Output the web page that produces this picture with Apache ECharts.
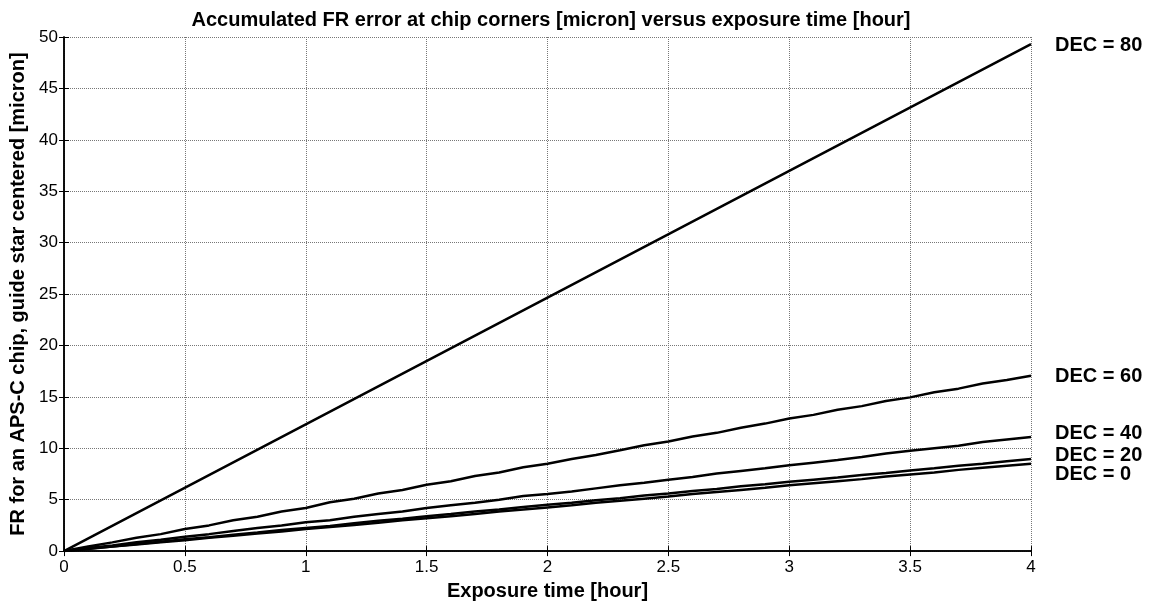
<!DOCTYPE html>
<html>
<head>
<meta charset="utf-8">
<script src="https://cdn.jsdelivr.net/npm/echarts@6/dist/echarts.min.js"></script>
<style>html,body{margin:0;padding:0;background:#fff}#c{width:1154px;height:606px}</style>
</head>
<body>
<div id="c"></div>
<script>
var titleText = 'Accumulated FR error at chip corners [micron] versus exposure time [hour]';
var xName = 'Exposure time [hour]';
var yName = 'FR for an APS-C chip, guide star centered [micron]';

var times = [0,0.1,0.2,0.3,0.4,0.5,0.6,0.7,0.8,0.9,1.0,1.1,1.2,1.3,1.4,1.5,1.6,1.7,1.8,1.9,2.0,
  2.1,2.2,2.3,2.4,2.5,2.6,2.7,2.8,2.9,3.0,3.1,3.2,3.3,3.4,3.5,3.6,3.7,3.8,3.9,4.0];

var times80 = [0, 2, 4];
var dec80 = [0, 24.65, 49.3];

var dec60 = [0,0.45,0.85,1.3,1.65,2.15,2.5,3.0,3.35,3.85,4.2,4.75,5.1,5.6,5.95,6.45,6.8,7.3,7.65,8.15,8.5,
  8.95,9.35,9.8,10.3,10.65,11.15,11.5,12.0,12.4,12.9,13.25,13.75,14.1,14.6,14.95,15.45,15.8,16.3,16.65,17.05];

var dec40 = [0,0.3,0.55,0.85,1.1,1.4,1.65,1.95,2.25,2.5,2.8,3.0,3.35,3.6,3.85,4.2,4.45,4.7,5.0,5.35,5.55,
  5.8,6.1,6.4,6.65,6.95,7.2,7.55,7.8,8.05,8.35,8.6,8.85,9.15,9.5,9.75,10.0,10.25,10.6,10.85,11.1];

var dec20 = [0,0.25,0.45,0.7,0.9,1.15,1.35,1.6,1.8,2.05,2.25,2.45,2.7,2.95,3.15,3.4,3.6,3.85,4.05,4.3,4.5,
  4.7,4.95,5.15,5.4,5.6,5.85,6.05,6.3,6.5,6.75,6.95,7.15,7.4,7.6,7.85,8.05,8.3,8.5,8.75,8.95];

var dec0 = [0,0.2,0.45,0.65,0.85,1.05,1.3,1.5,1.7,1.9,2.15,2.35,2.55,2.75,3.0,3.2,3.4,3.6,3.85,4.05,4.25,
  4.45,4.7,4.9,5.1,5.3,5.55,5.75,5.95,6.15,6.4,6.6,6.8,7.0,7.25,7.45,7.65,7.9,8.1,8.3,8.5];

var seriesLabels = ['DEC = 80', 'DEC = 60', 'DEC = 40', 'DEC = 20', 'DEC = 0'];
var labelOffsets = [1, 1, -3, -4, 11];

function pairs(xs, ys) { return xs.map(function (x, i) { return [x, ys[i]]; }); }

var FONT = "'Liberation Sans', Arial, sans-serif";
var chart = echarts.init(document.getElementById('c'), null, {renderer: 'canvas'});

function mkSeries(name, data, idx) {
  return {
    name: name, type: 'line', data: data, symbol: 'none', smooth: false,
    lineStyle: {color: '#000', width: 2.5}, animation: false,
    endLabel: {show: true, formatter: name, color: '#000', fontFamily: FONT,
      fontWeight: 'bold', fontSize: 20, distance: 24, offset: [0, labelOffsets[idx]]}
  };
}

var axisLineStyle = {show: true, lineStyle: {color: '#000', width: 1.5}};
var gridLine = {show: true, lineStyle: {color: '#777', type: [1, 1], width: 1}};

chart.setOption({
  animation: false,
  backgroundColor: '#fff',
  title: {text: titleText, left: 546, top: 5, textAlign: 'center',
    textStyle: {fontFamily: FONT, fontWeight: 'bold', fontSize: 20, color: '#000'}},
  grid: {left: 64, right: 123, top: 37, bottom: 53, containLabel: false},
  xAxis: [{
    type: 'value', min: 0, max: 4, interval: 0.5, position: 'bottom',
    name: xName, nameLocation: 'middle', nameGap: 29,
    nameTextStyle: {fontFamily: FONT, fontWeight: 'bold', fontSize: 20, color: '#000'},
    axisLine: axisLineStyle,
    axisTick: {show: true, inside: true, length: 5, lineStyle: {color: '#000'}},
    axisLabel: {fontFamily: FONT, fontSize: 17, color: '#000', margin: 8},
    splitLine: gridLine
  }, {
    type: 'value', min: 0, max: 4, interval: 0.5, position: 'top',
    axisLine: axisLineStyle,
    axisTick: {show: true, inside: true, length: 5, lineStyle: {color: '#000'}},
    axisLabel: {show: false}, splitLine: {show: false}
  }],
  yAxis: [{
    type: 'value', min: 0, max: 50, interval: 5, position: 'left',
    name: yName, nameLocation: 'middle', nameGap: 34,
    nameTextStyle: {fontFamily: FONT, fontWeight: 'bold', fontSize: 20, color: '#000'},
    axisLine: axisLineStyle,
    axisTick: {show: true, inside: true, length: 5, lineStyle: {color: '#000'}},
    axisLabel: {fontFamily: FONT, fontSize: 17, color: '#000', margin: 6},
    splitLine: gridLine
  }, {
    type: 'value', min: 0, max: 50, interval: 5, position: 'right',
    axisLine: axisLineStyle,
    axisTick: {show: true, inside: true, length: 5, lineStyle: {color: '#000'}},
    axisLabel: {show: false}, splitLine: {show: false}
  }],
  series: [
    mkSeries(seriesLabels[0], pairs(times80, dec80), 0),
    mkSeries(seriesLabels[1], pairs(times, dec60), 1),
    mkSeries(seriesLabels[2], pairs(times, dec40), 2),
    mkSeries(seriesLabels[3], pairs(times, dec20), 3),
    mkSeries(seriesLabels[4], pairs(times, dec0), 4)
  ]
});
</script>
</body>
</html>
